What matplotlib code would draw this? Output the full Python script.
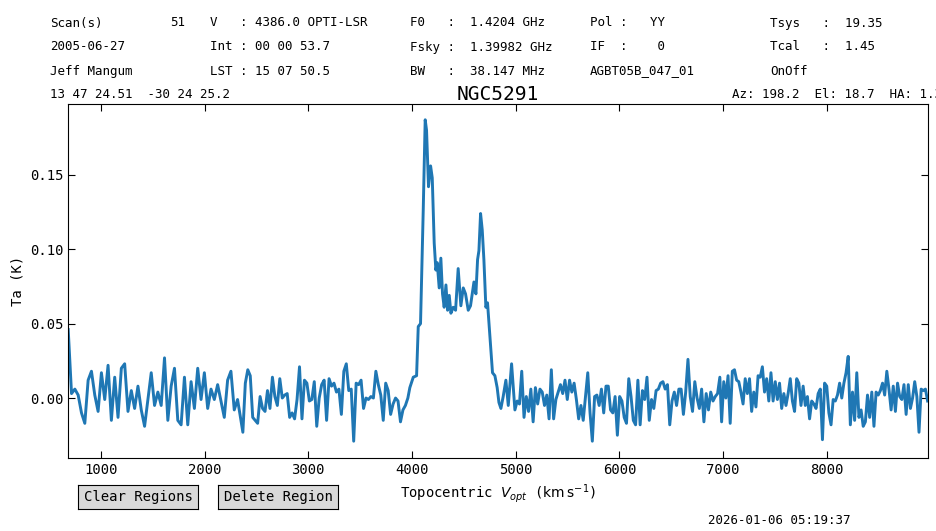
import numpy as np
import matplotlib
matplotlib.use("Agg")
import matplotlib.pyplot as plt
from matplotlib.widgets import Button

plt.rcParams['font.family'] = 'monospace'
plt.rcParams['font.monospace'] = ['DejaVu Sans Mono']

# Spectrum values (Ta in K), split in pieces along velocity
seg1_vrange = (685, 2318)
seg1_ta = [0.046, 0.003, 0.006, 0.002, -0.010, -0.017, 0.012, 0.018, 0.002, -0.009,
           0.017, -0.001, 0.022, -0.015, 0.014, -0.013, 0.020, 0.023, -0.009, 0.005,
           -0.007, 0.008, -0.008, -0.019, -0.001, 0.017, -0.005, 0.004, -0.005, 0.027,
           -0.015, 0.008, 0.020, -0.015, -0.018, 0.014, -0.018, 0.011, -0.007, 0.020,
           -0.001, 0.017, -0.007, 0.006, -0.001, 0.009, -0.002, -0.013, 0.012, 0.018,
           -0.008, -0.001]

seg2_vrange = (2369, 3960)
seg2_ta = [-0.023, 0.010, 0.019, 0.015, -0.013, -0.015, -0.017, 0.001, -0.007, -0.009,
           0.005, -0.007, 0.014, 0.001, -0.005, 0.013, 0.000, 0.002, 0.003, -0.013,
           -0.010, -0.014, -0.001, 0.021, -0.014, 0.012, 0.010, -0.002, -0.001, 0.011,
           -0.019, 0.000, 0.009, 0.012, -0.015, 0.013, 0.008, 0.010, 0.004, 0.006,
           -0.011, 0.018, 0.023, 0.005, 0.006, -0.029, 0.010, 0.009, 0.012, -0.007,
           0.000, -0.001, 0.001, 0.000, 0.018, 0.009, 0.002, -0.015, 0.010, 0.005,
           -0.011, -0.004, 0.000, -0.002, -0.016, -0.008, -0.005, 0.000]

line_v = [3979, 4012, 4044, 4060, 4082, 4108, 4127, 4140, 4159, 4179,
          4195, 4214, 4230, 4243, 4262, 4278, 4294, 4310, 4327, 4343,
          4359, 4375, 4397, 4420, 4445, 4471, 4494, 4516, 4542, 4564,
          4597, 4616, 4632, 4645, 4661, 4677, 4693, 4712, 4728, 4751,
          4776, 4799, 4821, 4838, 4857, 4879, 4905, 4928, 4960]
line_ta = [0.007, 0.014, 0.015, 0.048, 0.050, 0.126, 0.187, 0.180, 0.142, 0.156,
           0.148, 0.104, 0.086, 0.091, 0.074, 0.094, 0.070, 0.061, 0.076, 0.059,
           0.069, 0.057, 0.061, 0.059, 0.087, 0.062, 0.074, 0.070, 0.059, 0.062,
           0.078, 0.070, 0.093, 0.099, 0.124, 0.113, 0.093, 0.061, 0.064, 0.041,
           0.017, 0.015, 0.007, -0.003, -0.007, 0.001, 0.012, -0.005, 0.023]

seg4_vrange = (4992, 6968)
seg4_ta = [-0.008, -0.002, -0.004, 0.018, -0.013, 0.001, -0.009, 0.006, -0.016, 0.007,
           -0.004, 0.006, 0.004, -0.005, 0.002, -0.014, 0.019, -0.014, -0.001, 0.004,
           0.009, 0.003, 0.012, -0.001, 0.012, 0.004, 0.010, -0.001, -0.014, -0.005,
           -0.015, 0.001, 0.017, -0.010, -0.029, 0.001, 0.002, -0.005, 0.006, -0.010,
           0.008, 0.008, -0.008, -0.010, 0.001, -0.025, 0.001, -0.002, -0.013, -0.017,
           0.013, 0.001, -0.015, -0.018, 0.012, -0.018, 0.005, -0.001, 0.014, -0.015,
           -0.001, -0.007, 0.005, 0.006, 0.010, 0.011, 0.006, 0.009, -0.018, -0.002,
           0.004, -0.005, 0.006, 0.006, -0.011, 0.004, 0.026, 0.001, -0.009, 0.011,
           0.000, -0.007, 0.006, -0.016, 0.003, -0.008, 0.004, -0.002, 0.001, 0.003,
           0.014]

seg5_vrange = (6985, 8971)
seg5_ta = [-0.016, 0.011, 0.000, 0.015, -0.017, 0.018, 0.019, 0.012, 0.011, 0.004,
           -0.004, 0.013, 0.003, 0.013, -0.009, 0.004, -0.006, 0.015, 0.014, 0.021,
           0.004, 0.013, -0.002, 0.017, -0.002, 0.011, -0.001, 0.010, -0.007, 0.003,
           -0.005, 0.003, 0.013, -0.002, -0.009, 0.013, 0.010, -0.005, 0.008, -0.005,
           0.001, -0.014, -0.002, -0.004, -0.007, 0.003, 0.006, -0.028, 0.010, 0.008,
           -0.010, -0.018, -0.001, -0.002, 0.002, 0.010, 0.000, 0.010, 0.017, 0.028,
           -0.018, 0.004, -0.015, 0.017, -0.013, -0.008, -0.019, -0.016, 0.002, -0.013,
           0.004, -0.019, 0.004, 0.002, 0.005, 0.010, 0.002, 0.018, 0.006, -0.008,
           0.008, -0.009, 0.010, 0.001, -0.001, 0.009, -0.011, 0.009, -0.007, 0.000,
           0.011, 0.001, -0.023, 0.006, 0.005, 0.006, -0.002]

xticks = [1000, 2000, 3000, 4000, 5000, 6000, 7000, 8000]
yticks = [0.00, 0.05, 0.10, 0.15]

header = [
    ["Scan(s)", "51", "V   : 4386.0 OPTI-LSR", "F0   :  1.4204 GHz", "Pol :   YY", "Tsys   :  19.35"],
    ["2005-06-27", "", "Int : 00 00 53.7", "Fsky :  1.39982 GHz", "IF  :    0", "Tcal   :  1.45"],
    ["Jeff Mangum", "", "LST : 15 07 50.5", "BW   :  38.147 MHz", "AGBT05B_047_01", "OnOff"],
]
header_x = [50, 170, 210, 410, 590, 770]
header_y = [23, 47, 71]

# assemble the spectrum
vel = np.concatenate([
    np.linspace(*seg1_vrange, len(seg1_ta)),
    np.linspace(*seg2_vrange, len(seg2_ta)),
    np.array(line_v, dtype=float),
    np.linspace(*seg4_vrange, len(seg4_ta)),
    np.linspace(*seg5_vrange, len(seg5_ta)),
])
ta = np.concatenate([seg1_ta, seg2_ta, line_ta, seg4_ta, seg5_ta])

W, H = 937, 531
fig = plt.figure(figsize=(W / 100, H / 100), dpi=100)
ax = fig.add_axes([68 / W, 1 - 458 / H, 860 / W, 354 / H])
ax.plot(vel, ta, color='#1f77b4', lw=2.1)
ax.set_xlim(683, 8975)
ax.set_ylim(-0.0403, 0.1976)
ax.set_xticks(xticks)
ax.set_yticks(yticks)
ax.set_yticklabels([f"{t:.2f}" for t in yticks])
ax.tick_params(direction='in', top=True, right=True, labelsize=10, length=5)
ax.set_xlabel(r"Topocentric $V_{opt}$ ($\mathrm{km\,s^{-1}}$)", fontsize=10)
ax.set_ylabel("Ta (K)", fontsize=10)
ax.set_title("NGC5291", fontsize=14, pad=3)

# header block
for row, y in zip(header, header_y):
    for txt, x in zip(row, header_x):
        fig.text(x / W, 1 - y / H, txt, fontsize=9, va='center', ha='left')
fig.text(50 / W, 1 - 95 / H, "13 47 24.51  -30 24 25.2", fontsize=9, va='center')
fig.text(732 / W, 1 - 95 / H, "Az: 198.2  El: 18.7  HA: 1.38", fontsize=9, va='center')
fig.text(708 / W, 1 - 521 / H, "2026-01-06 05:19:37", fontsize=9, va='center')

# buttons
bax1 = fig.add_axes([78 / W, 1 - 509 / H, 120 / W, 24 / H])
b1 = Button(bax1, "Clear Regions")
b1.label.set_fontsize(10)
bax2 = fig.add_axes([218 / W, 1 - 509 / H, 120 / W, 24 / H])
b2 = Button(bax2, "Delete Region")
b2.label.set_fontsize(10)

fig.savefig("out.png", dpi=100)
